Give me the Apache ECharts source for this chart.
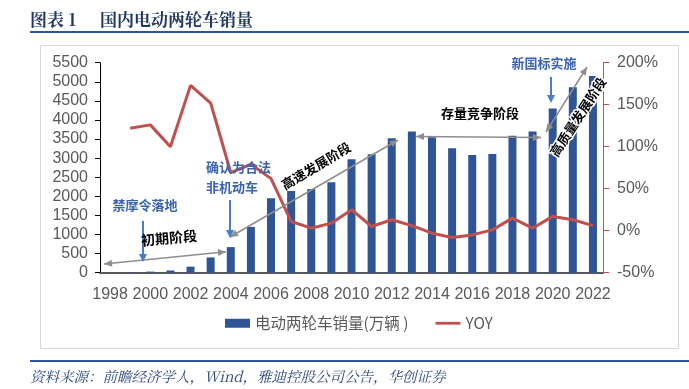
<!DOCTYPE html>
<html><head><meta charset="utf-8">
<script src="https://cdn.jsdelivr.net/npm/echarts@6/dist/echarts.min.js"></script>
<style>html,body{margin:0;padding:0;background:#fff}#c{width:689px;height:389px}</style>
</head><body><div id="c"></div>
<script>
const years = ['1998','1999','2000','2001','2002','2003','2004','2005','2006','2007','2008','2009','2010','2011','2012','2013','2014','2015','2016','2017','2018','2019','2020','2021','2022'];
const sales = [6,13,29,58,158,400,670,1200,1950,2140,2190,2370,2970,3100,3520,3700,3550,3260,3080,3110,3590,3700,4300,4860,5150];
const yoy = [null,122,126,100,173,152,69,79,62,11,3,9,25,5,13,6,-3,-8,-5,1,15,3,17,13,6];
const leftTicks = {min:0, max:5500, interval:500};
const rightTicks = {min:-50, max:200, interval:50};

const NUM = "'Liberation Sans', Arial, 'Noto Sans CJK SC', sans-serif";
const CJK = "'Noto Sans CJK SC', 'Liberation Sans', sans-serif";
const BLUE_T = '#3A64AE', BLUE_A = '#4A7CC8', GRAY = '#8E8E8E';

function head(tx, ty, fx, fy, color, len, w) {
  const dx = tx - fx, dy = ty - fy, L = Math.hypot(dx, dy);
  const ux = dx / L, uy = dy / L, px = -uy, py = ux;
  const bx = tx - ux * len, by = ty - uy * len;
  return {type:'polygon', shape:{points:[[tx,ty],[bx+px*w/2,by+py*w/2],[bx-px*w/2,by-py*w/2]]}, style:{fill:color}, z:100};
}
function dbl(x1,y1,x2,y2) {
  return [
    {type:'line', shape:{x1:x1,y1:y1,x2:x2,y2:y2}, style:{stroke:GRAY, lineWidth:1.5}, z:100},
    head(x1,y1,x2,y2,GRAY,8,7), head(x2,y2,x1,y1,GRAY,8,7)
  ];
}
function down(x,y1,y2) {
  return [
    {type:'line', shape:{x1:x,y1:y1,x2:x,y2:y2-6}, style:{stroke:BLUE_A, lineWidth:2}, z:100},
    head(x,y2,x,y1,BLUE_A,8,8)
  ];
}
function txt(x,y,s,color,deg,extra) {
  return Object.assign({type:'text', x:x, y:y, rotation:(deg||0)*Math.PI/180, z:110,
    style:Object.assign({text:s, fill:color, font:"bold 13px 'Noto Sans CJK SC', sans-serif", align:'center', verticalAlign:'middle'}, extra||{})});
}
const TITLE_FONT = "bold 17px 'Noto Serif CJK SC','Noto Sans CJK SC', serif";

const graphics = [].concat(
  [{type:'rect', shape:{x:40.5,y:45.5,width:638,height:303}, style:{fill:'none', stroke:'#D9D9D9', lineWidth:1}, z:0},
   {type:'line', shape:{x1:30,y1:32,x2:689,y2:32}, style:{stroke:'#2F5597', lineWidth:2}},
   {type:'line', shape:{x1:30,y1:361,x2:689,y2:361}, style:{stroke:'#2F5597', lineWidth:2}},
   {type:'text', x:30, y:20, style:{text:'图表 1', fill:'#1F3864', font:TITLE_FONT, verticalAlign:'middle'}},
   {type:'text', x:100, y:20, style:{text:'国内电动两轮车销量', fill:'#1F3864', font:TITLE_FONT, verticalAlign:'middle'}},
   {type:'text', x:30, y:376, style:{text:'资料来源：前瞻经济学人，Wind，雅迪控股公司公告，华创证券', fill:'#2E4A7D', font:"italic 14.5px 'Noto Serif CJK SC','Noto Sans CJK SC', serif", verticalAlign:'middle'}}],
  dbl(104,264,226,251.7),
  dbl(230,237,398,140),
  dbl(416,136.5,541,137.5),
  dbl(546,132,587,67),
  down(143,221,262),
  down(230,200,238),
  down(551,77,103),
  [txt(169,238,'初期阶段','#000',5,{font:"bold 14px 'Noto Sans CJK SC', sans-serif"}),
   txt(145,205,'禁摩令落地',BLUE_T,0),
   txt(206,167,'确认为合法',BLUE_T,0,{align:'left'}),
   txt(206,187,'非机动车',BLUE_T,0,{align:'left'}),
   txt(316,166,'高速发展阶段','#000',31),
   txt(480,113,'存量竞争阶段','#000',0),
   txt(544,63,'新国标实施',BLUE_T,0),
   txt(578,117,'高质量发展阶段','#000',57,{stroke:'#fff', lineWidth:3})]
);

const chart = echarts.init(document.getElementById('c'));
chart.setOption({
  animation:false,
  backgroundColor:'#fff',
  grid:{left:100, right:86, top:62.7, bottom:116.3},
  legend:{bottom:53, left:220, itemGap:27, itemWidth:25, itemHeight:9,
    textStyle:{fontSize:15.5, color:'#595959', fontFamily:CJK},
    data:[{name:'电动两轮车销量(万辆 )', icon:'rect'}, {name:'YOY', icon:'path://M0,0H27V3H0Z'}]},
  xAxis:{type:'category', data:years, boundaryGap:true,
    axisLine:{lineStyle:{color:'#595959', width:2}}, axisTick:{show:false},
    axisLabel:{interval:1, fontSize:16, color:'#595959', margin:14, fontFamily:NUM}},
  yAxis:[
    {type:'value', min:leftTicks.min, max:leftTicks.max, interval:leftTicks.interval, position:'left',
      axisLine:{show:true, lineStyle:{color:'#000', width:1}}, axisTick:{show:true, length:5, lineStyle:{color:'#000'}},
      splitLine:{show:false}, axisLabel:{fontSize:16, color:'#595959', margin:12, fontFamily:NUM, formatter:function(v){return String(v);}}},
    {type:'value', min:rightTicks.min, max:rightTicks.max, interval:rightTicks.interval, position:'right',
      axisLine:{show:true, lineStyle:{color:'#C0504D', width:1}}, axisTick:{show:true, length:6, lineStyle:{color:'#C0504D'}},
      splitLine:{show:false}, axisLabel:{fontSize:16, color:'#595959', margin:14, fontFamily:NUM, formatter:function(v){return v + '%';}}}
  ],
  series:[
    {name:'电动两轮车销量(万辆 )', type:'bar', data:sales, barWidth:8, itemStyle:{color:'#2F5597'}, z:2},
    {name:'YOY', type:'line', yAxisIndex:1, data:yoy, symbol:'none', connectNulls:false,
      lineStyle:{color:'#C0504D', width:3}, itemStyle:{color:'#C0504D'}, z:3}
  ],
  graphic:graphics
});
</script></body></html>
